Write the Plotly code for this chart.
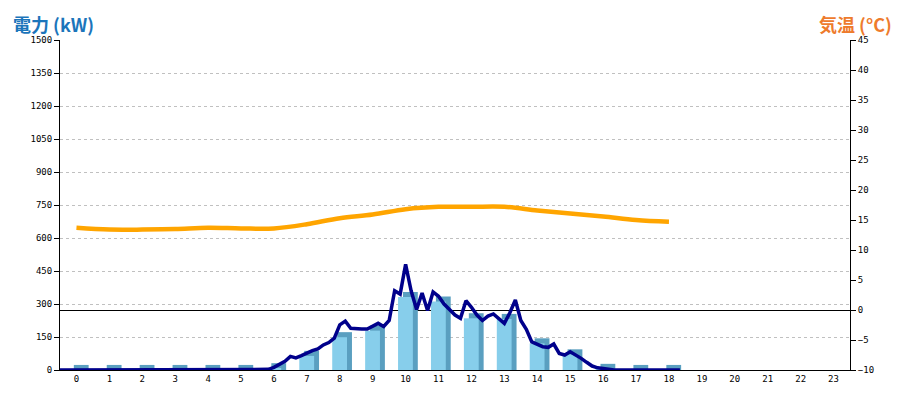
import plotly.graph_objects as go

# ---- data ----
hours = list(range(24))
hour_labels = [str(h) for h in hours]

# hourly generated power (kW) bars
power_hourly = [0, 0, 0, 0, 0, 0, 8, 64, 149, 179, 332, 311, 235, 232, 121, 71, 5, 0, 0]

# 10-minute power readings (kW), from 00:00 to 18:50
power_10min = [0] * 38 + [
    3, 12, 25, 40, 62, 55, 65, 78, 88, 96, 114, 125, 145, 205, 222, 190,
    186, 186, 186, 200, 212, 198, 225, 360, 345, 480, 360, 275, 350, 270,
    355, 335, 300, 275, 250, 235, 315, 285, 250, 225, 245, 255, 232, 212,
    260, 318, 225, 185, 128, 118, 106, 103, 118, 75, 68, 83, 70, 53, 35,
    18, 10, 6, 3,
] + [0] * 13
power_times = [k / 6 for k in range(len(power_10min))]  # hours since 00:00

# hourly temperature (°C)
temp_hourly = [13.7, 13.4, 13.4, 13.5, 13.7, 13.6, 13.6, 14.3, 15.3, 15.9,
               16.8, 17.2, 17.2, 17.2, 16.6, 16.1, 15.6, 15.0, 14.7]

left_ticks = list(range(0, 1501, 150))
right_ticks = list(range(-10, 46, 5))

# ---- styling ----
FRONT = "#87CEEB"
SIDE = "#5A9FC0"
LINE = "#00008B"
ORANGE = "#FFA500"
DEPTH_Y = 23          # kW, visual depth of the 3D bar top
BAR_W = 0.45
BAR_OFF = -0.23
SIDE_SHIFT = 0.15

# page body has an 8px default margin
W, H = 892, 392
ML, MR, MT, MB = 52, 50, 32, 30
PW, PH = W - ML - MR, H - MT - MB

bar_x = hours[:len(power_hourly)]

fig = go.Figure()
fig.add_trace(go.Bar(
    x=bar_x, y=[v + DEPTH_Y for v in power_hourly],
    width=BAR_W, offset=BAR_OFF + SIDE_SHIFT,
    marker=dict(color=SIDE, line=dict(width=0)), hoverinfo="skip",
    showlegend=False,
))
fig.add_trace(go.Bar(
    x=bar_x, y=power_hourly,
    width=BAR_W, offset=BAR_OFF,
    marker=dict(color=FRONT, line=dict(width=0)), showlegend=False,
))
fig.add_trace(go.Scatter(
    x=[t - 0.5 for t in power_times], y=power_10min, mode="lines",
    line=dict(color=LINE, width=3.5), showlegend=False,
))
fig.add_trace(go.Scatter(
    x=hours[:len(temp_hourly)], y=temp_hourly, mode="lines", yaxis="y2",
    line=dict(color=ORANGE, width=4.5, shape="spline"), showlegend=False,
))

tickfont = dict(family="DejaVu Sans Mono", size=9, color="black")

fig.update_layout(
    width=W, height=H,
    margin=dict(l=ML, r=MR, t=MT, b=MB, autoexpand=False),
    plot_bgcolor="white", paper_bgcolor="white",
    barmode="overlay",
    xaxis=dict(
        range=[-0.5, 23.5], tickvals=hours, ticktext=hour_labels,
        showgrid=False, zeroline=False, showline=True, linecolor="black",
        linewidth=1, ticks="", tickfont=tickfont, fixedrange=True,
    ),
    yaxis=dict(
        range=[0, 1500], tickvals=left_ticks,
        showgrid=True, gridcolor="#c0c0c0", griddash="dot", gridwidth=1,
        zeroline=False, showline=True, linecolor="black", linewidth=1,
        ticks="outside", ticklen=5, tickcolor="black", tickfont=tickfont,
    ),
    yaxis2=dict(
        range=[-10, 45], tickvals=right_ticks, overlaying="y", side="right",
        showgrid=False, zeroline=True, zerolinecolor="black", zerolinewidth=1,
        showline=True, linecolor="black", linewidth=1,
        ticks="outside", ticklen=5, tickcolor="black", tickfont=tickfont,
    ),
    annotations=[
        dict(text="<b>電力 (kW)</b>", xref="paper", yref="paper",
             x=-49 / PW, y=(PH + MT - 1) / PH, xanchor="left", yanchor="top",
             showarrow=False,
             font=dict(family="Noto Sans CJK JP", size=18, color="#1B75BB")),
        dict(text="<b>気温 (°C)</b>", xref="paper", yref="paper",
             x=(PW + 44) / PW, y=(PH + MT - 1) / PH, xanchor="right", yanchor="top",
             showarrow=False,
             font=dict(family="Noto Sans CJK JP", size=18, color="#EE7B2C")),
    ],
)

fig.write_html("out.html")
